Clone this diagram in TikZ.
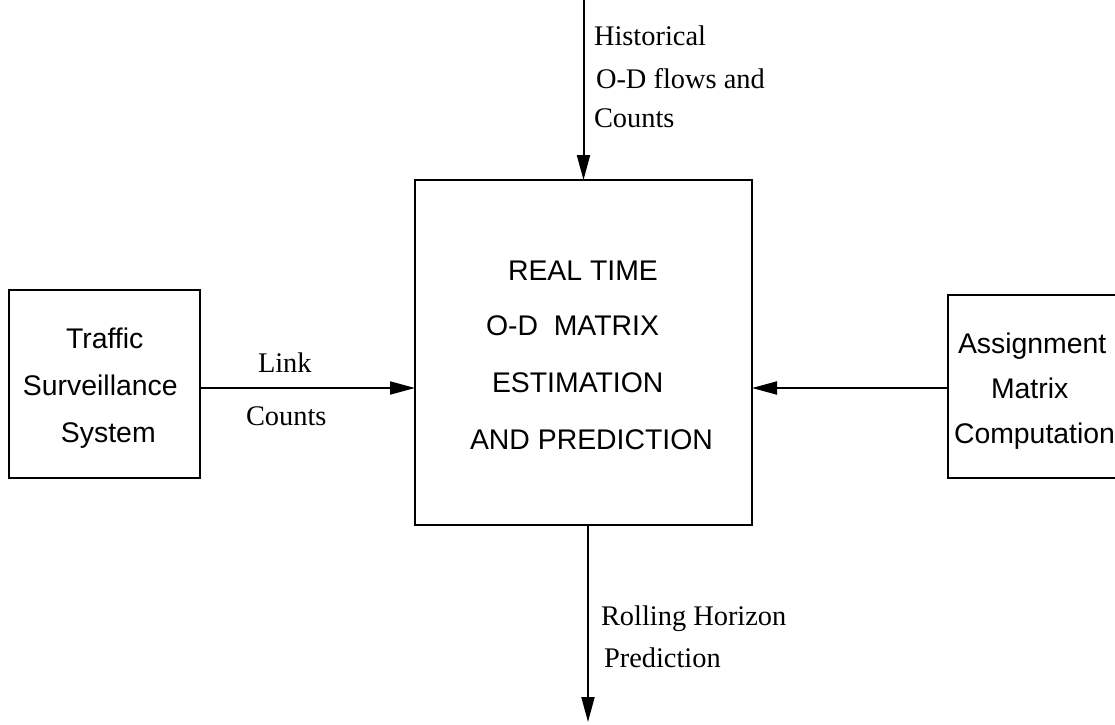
\documentclass[tikz,border=0pt]{standalone}
\usepackage{fontspec}
\setmainfont{Liberation Serif}
\setsansfont{Liberation Sans}
\usetikzlibrary{arrows.meta}

\begin{document}
\begin{tikzpicture}[x = 0.5pt, y = -0.5pt, line width = 1pt,
        box/.style = {draw, inner sep = 0pt, outer sep = 0pt},
        sans/.style = {anchor = base west, inner sep = 0pt, font = \sffamily\fontsize{14.2}{17}\selectfont},
        serif/.style = {anchor = base west, inner sep = 0pt, font = \fontsize{14.2}{17}\selectfont},
        arr/.style = {-{Triangle[length = 12.5pt, width = 6.5pt]}}]
        \useasboundingbox (0,0) rectangle (1115,724);
        \clip (0,0) rectangle (1115,724);

        \node[box, minimum width = 168.5pt, minimum height = 172.5pt] (est) at (583.5,352.5) {}; %main
        \node[box, minimum width = 95.5pt, minimum height = 94pt] (tss) at (104.5,384) {}; %left
        \node[box, minimum width = 90pt, minimum height = 91.5pt] (amc) at (1038,386.5) {}; %right

        \coordinate (hist) at (583.5,0);
        \coordinate (roll) at (588,722);
        \coordinate (mid) at (0,388);

        \draw[arr] (hist) -- (est.north);
        \draw[arr] (est.south -| roll) -- (roll);
        \draw[arr] (tss.east |- mid) -- (est.west |- mid);
        \draw[arr] (amc.west |- mid) -- (est.east |- mid);

        \node[sans] (e1) at (507,280) {REAL TIME};
        \node[sans] (e2) at (485,335) {O-D\ \ MATRIX};
        \node[sans] (e3) at (491,392) {ESTIMATION};
        \node[sans] (e4) at (469,449) {AND PREDICTION};

        \node[sans] (t1) at (65,348) {Traffic};
        \node[sans] (t2) at (22,395) {Surveillance};
        \node[sans] (t3) at (60,442) {System};

        \node[sans] (a1) at (957,353) {Assignment};
        \node[sans] (a2) at (990,398) {Matrix};
        \node[sans] (a3) at (953,443) {Computation};

        \node[serif] (h1) at (593,45) {Historical};
        \node[serif] (h2) at (595,88) {O-D flows and};
        \node[serif] (h3) at (593,127) {Counts};
        \node[serif] (l1) at (257,372) {Link};
        \node[serif] (l2) at (245,425) {Counts};
        \node[serif] (p1) at (600,625) {Rolling Horizon};
        \node[serif] (p2) at (603,667) {Prediction};
    \end{tikzpicture}
\end{document}
